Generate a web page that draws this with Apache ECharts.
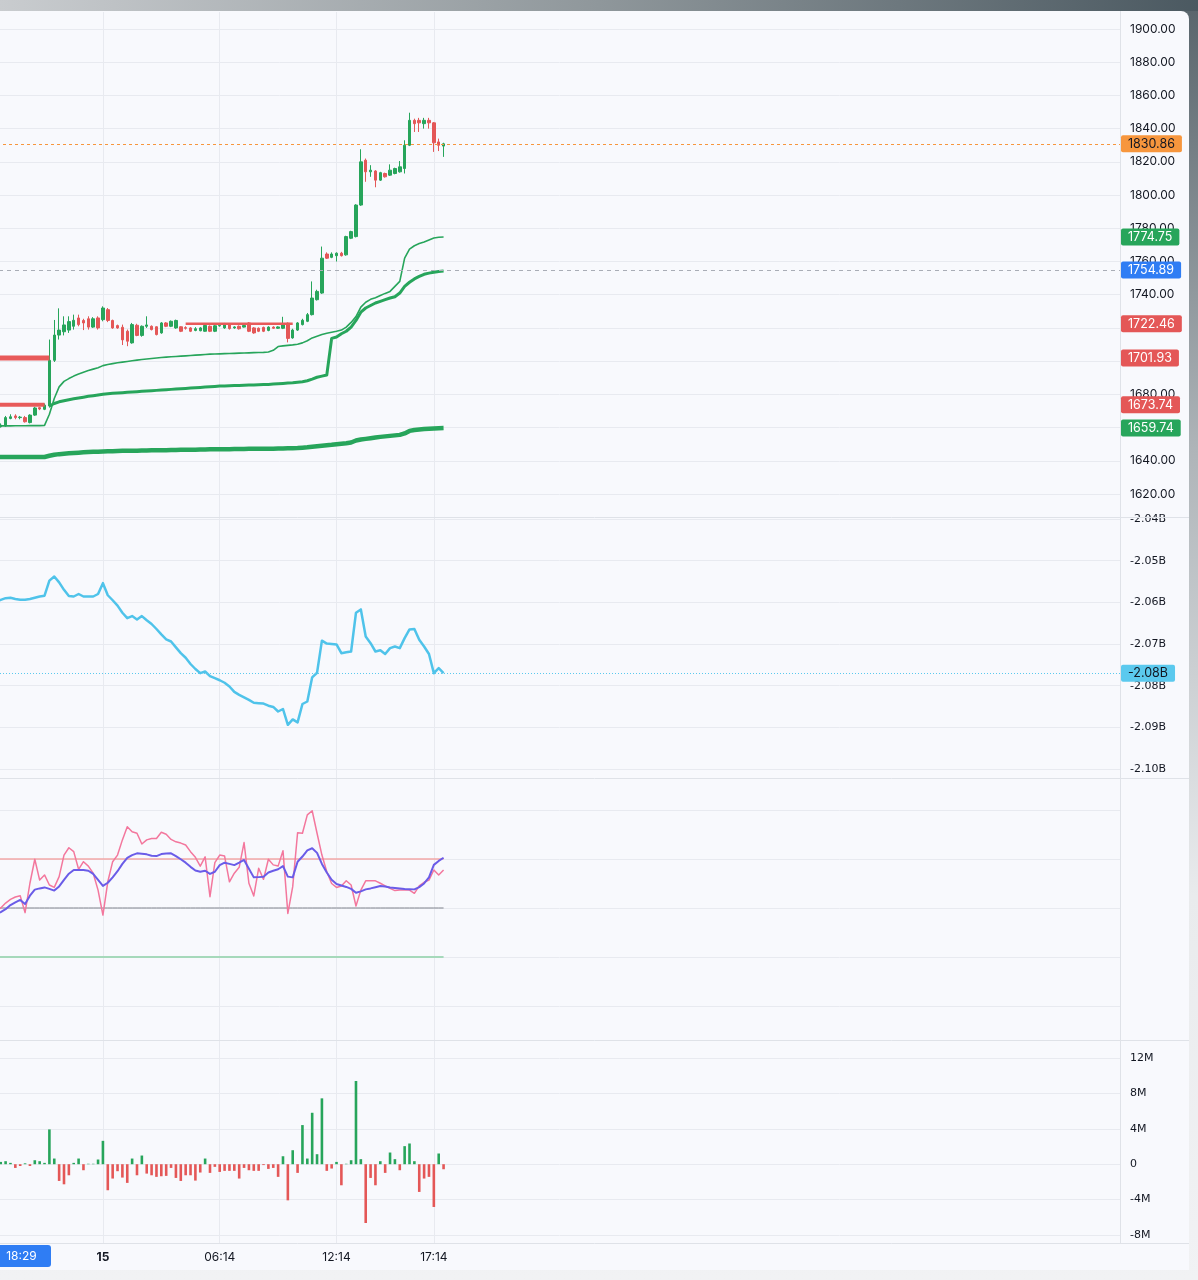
<!DOCTYPE html>
<html>
<head>
<meta charset="utf-8">
<title>chart</title>
<script src="https://cdn.jsdelivr.net/npm/echarts@6.0.0/dist/echarts.min.js"></script>
<style>
  body{margin:0;width:1198px;height:1280px;overflow:hidden;position:relative;
    background:linear-gradient(180deg,#58646b 0%,#aeb4b8 35%,#e9ebed 70%,#f1f2f4 100%);}
  #strip{position:absolute;left:0;top:0;width:1198px;height:11px;background:linear-gradient(90deg,#c9cccf,#8f979b 50%,#4b5961);}
  #panel{position:absolute;left:0;top:11px;width:1189px;height:1259px;background:#f8f9fd;border-top-right-radius:8px;}
  #chart{position:absolute;left:0;top:0;width:1198px;height:1280px;}
</style>
</head>
<body>
<div id="strip"></div>
<div id="panel"></div>
<div id="chart"></div>
<script>
// 15 minute bars, first slot = 14th 18:29
const startDay = 14;
const startMinute = 18 * 60 + 29;
const barMinutes = 15;
const slotCount = 233; // bars + empty room on the right side

const timeTicks = ['15 00:14', '15 06:14', '15 12:14', '15 17:14'];

const opens = [1659,1660,1660.5,1661,1665.5,1667,1666,1666,1663,1667.5,
  1672,1671,1673,1700.5,1715.7,1717.7,1718.7,1721,1726,1724.5,
  1725.5,1720.5,1726,1725,1731,1724.5,1721.4,1720.4,1718,1711,
  1721.6,1715.5,1721,1721,1720.7,1717,1723,1721,1720,1720.7,
  1720.2,1720,1718.5,1718.3,1718,1721,1718,1721.2,1720,1722,
  1720,1721,1720.5,1723,1720,1719.8,1720.3,1718.5,1720.5,1719.8,
  1719.8,1722.8,1714,1718.7,1722,1724,1728,1737,1741,1764.5,
  1762.5,1763.5,1765,1764,1774,1775,1794,1821,1814,1814.5,
  1809,1813,1812,1813,1814,1816,1830,1845,1845,1843,
  1845,1843.5,1832,1829.5];
const closes = [1660,1660.5,1661.5,1666,1666.5,1666,1666.3,1663.5,1667.5,1671.8,
  1671.2,1673.5,1700.5,1715.7,1718.7,1721.8,1723.8,1724.6,1722,1723,
  1720.5,1725.5,1720,1732,1724.5,1720,1720,1712.8,1712,1722,
  1715.5,1721,1721.8,1719,1716,1723,1721,1724,1724.5,1718,
  1719.8,1718,1719.5,1720,1721.5,1718,1721.3,1721.5,1722.5,1719.6,
  1720.6,1719.5,1721.5,1718,1717,1718,1718,1720.5,1719.8,1720.6,
  1722.5,1713.7,1718.7,1723,1724.6,1728,1738,1742,1762,1762,
  1764.5,1765,1763.5,1775,1778,1794,1820,1814,1815,1809,
  1813.5,1811,1815,1816,1817,1830,1845,1843,1843.5,1845,
  1843.5,1831.5,1830,1830.86];
const lows = [1658,1659,1660,1660.5,1665,1665,1665,1663,1662.5,1667,
  1670.5,1670.5,1672,1699.5,1713,1715.5,1717,1719,1721,1718.7,
  1719,1720,1719,1724,1723.5,1719.5,1719.5,1709.7,1709,1710.5,
  1715,1714.7,1720,1718.5,1715.5,1716.5,1720.5,1720.5,1719.5,1717.5,
  1719,1717.5,1718,1718,1717.7,1717.5,1717.5,1720.8,1719.5,1719,
  1719.5,1719,1720.2,1717.5,1716.5,1717.5,1717.5,1718,1719.4,1719.4,
  1719.3,1711.3,1713.5,1718.2,1721.5,1723.5,1727.5,1736.5,1740.5,1761.5,
  1762,1760,1763,1763.5,1773.5,1774.5,1793.5,1808,1811,1804.7,
  1808.5,1810.5,1811.5,1812.5,1813.5,1813,1829.5,1838,1838,1840,
  1840,1826,1826.5,1823];
const highs = [1661,1662,1662.5,1667,1668,1668,1667,1667,1668,1672.5,
  1672.5,1674.5,1713,1724.8,1731.8,1727,1727,1728,1728,1725.5,
  1727,1726.5,1727,1733,1732,1725,1722,1722,1719,1723,
  1722.5,1721.5,1727,1721.5,1721,1723.5,1723.5,1724.5,1725,1721,
  1721,1720.5,1720.5,1720.5,1722,1721.5,1721.8,1722.3,1723,1722.5,
  1721,1721.5,1722.3,1723.5,1720.5,1720.3,1720.8,1721,1721,1721,
  1726.7,1723.3,1719.5,1723.5,1725.5,1729,1748,1743,1769,1765.5,
  1765.5,1765.5,1765.8,1775.5,1778.5,1794.5,1827.6,1822,1818,1815,
  1814,1813.5,1818.5,1816.5,1820.5,1833,1849.6,1846,1846.5,1846.5,
  1846.5,1844,1834,1831.5];

// green bands on the price pane
const bandFast = [1661,1661,1661,1661,1661,1661.1,1661.1,1661.1,1661.2,1661.2,
  1661.2,1661.3,1668,1677.5,1684.5,1687.8,1689.5,1691,1692.2,1693.3,
  1694.3,1695.2,1696,1697.3,1698,1698.5,1699,1699.4,1699.8,1700.2,
  1700.6,1701,1701.3,1701.6,1701.9,1702.2,1702.4,1702.6,1702.8,1703,
  1703.2,1703.4,1703.6,1703.8,1704,1704.2,1704.3,1704.4,1704.5,1704.6,
  1704.7,1704.8,1704.9,1705,1705.1,1705.2,1705.3,1705.5,1706.5,1708.8,
  1709.2,1709.5,1709.8,1710.2,1711,1712.3,1714,1715,1716,1716.8,
  1717.4,1718,1718.7,1720.5,1723.3,1726.8,1732.5,1735.5,1737.2,1738.2,
  1739.5,1740.8,1742,1745,1748,1762,1767.5,1769.5,1770.8,1771.8,
  1773,1774.2,1774.6,1774.75];
const bandMid = [null,null,null,null,null,null,null,null,null,null,
  null,null,1673,1674.5,1675.5,1676.2,1676.8,1677.3,1677.8,1678.3,
  1678.8,1679.2,1679.6,1680,1680.3,1680.6,1680.8,1681,1681.2,1681.4,
  1681.6,1681.8,1682,1682.2,1682.4,1682.6,1682.8,1683,1683.2,1683.4,
  1683.6,1683.8,1684,1684.2,1684.4,1684.6,1684.8,1685,1685.1,1685.2,
  1685.3,1685.4,1685.5,1685.6,1685.7,1685.8,1685.9,1686,1686.2,1686.4,
  1686.6,1686.8,1687,1687.3,1687.6,1688.2,1689.2,1690.3,1691,1691.7,
  1713.7,1714.5,1716.5,1718,1720.5,1724.5,1729.5,1732,1733.5,1735,
  1736,1737,1738,1738.8,1741,1745,1747.5,1749.5,1751,1752.3,
  1753,1753.5,1754,1754.3];
const bandSlow = [1642.3,1642.3,1642.3,1642.3,1642.3,1642.3,1642.3,1642.3,1642.3,1642.3,
  1642.3,1642.3,1643,1643.6,1644,1644.3,1644.5,1644.7,1644.9,1645.1,
  1645.3,1645.4,1645.5,1645.6,1645.7,1645.8,1645.9,1646,1646,1646.1,
  1646.1,1646.2,1646.2,1646.3,1646.3,1646.4,1646.4,1646.5,1646.5,1646.6,
  1646.6,1646.7,1646.7,1646.8,1646.8,1646.9,1646.9,1647,1647,1647,
  1647.1,1647.1,1647.1,1647.2,1647.2,1647.2,1647.3,1647.3,1647.3,1647.4,
  1647.4,1647.5,1647.6,1647.7,1647.9,1648.1,1648.4,1648.7,1649,1649.3,
  1649.6,1650,1650.3,1650.6,1651,1652.2,1652.8,1653.2,1653.6,1654,
  1654.4,1654.7,1655,1655.3,1655.6,1656.5,1658,1658.5,1658.8,1659.1,
  1659.3,1659.5,1659.65,1659.74];

// red horizontal levels: value, first bar, last bar
const levelValues = [1701.93, 1673.74, 1722.46];
const levelFrom = [0, 0, 40];
const levelTo = [12, 11, 62];

const crosshairPrice = 1754.89;

// billions
const obv = [-2.0600,-2.0598,-2.0594,-2.0590,-2.0589,-2.0592,-2.0594,-2.0594,-2.0592,-2.0589,
  -2.0586,-2.0584,-2.0548,-2.0538,-2.0552,-2.0570,-2.0585,-2.0586,-2.0580,-2.0586,
  -2.0586,-2.0586,-2.0580,-2.0554,-2.0583,-2.0595,-2.0608,-2.0625,-2.0638,-2.0633,
  -2.0641,-2.0633,-2.0643,-2.0652,-2.0664,-2.0677,-2.0689,-2.0694,-2.0708,-2.0722,
  -2.0733,-2.0748,-2.0760,-2.0770,-2.0766,-2.0777,-2.0782,-2.0787,-2.0793,-2.0802,
  -2.0815,-2.0822,-2.0828,-2.0834,-2.0841,-2.0842,-2.0843,-2.0848,-2.0851,-2.0862,
  -2.0856,-2.0894,-2.0881,-2.0888,-2.0844,-2.0838,-2.0780,-2.0769,-2.0692,-2.0699,
  -2.0700,-2.0701,-2.0722,-2.0720,-2.0718,-2.0625,-2.0617,-2.0682,-2.0698,-2.0718,
  -2.0715,-2.0724,-2.0710,-2.0706,-2.0710,-2.0686,-2.0665,-2.0664,-2.0690,-2.0706,
  -2.0724,-2.0770,-2.0758,-2.0770];

const rsi = [48,49,50,52,53.5,54.5,55,48.1,60.1,69.9,
  61.4,63.5,59.4,58.4,62.8,71.6,74.6,73,65.8,68.9,
  67.1,64.2,57.3,47.1,60.7,68.9,71.6,77.8,83.2,81.1,
  80.5,76.1,77.8,78.4,78.4,80.9,80.1,78,77,76.5,
  75.7,73,70.7,67.1,70.9,54.6,68.5,71.6,71.2,60.7,
  64.2,66.6,76.7,60.1,54.9,66.2,61.7,69.9,67.6,67.1,
  73.4,47.8,58.7,80.7,80.5,88,89.7,80.5,71.6,64.8,
  60,58.4,59,61.1,59.4,50.8,57.3,61.1,61.1,61.1,
  60.1,59,58,57.1,57.3,57.3,57.3,56,59,60.5,
  61.4,65.5,63.5,65.5];
const rsiSignal = [47,47.5,48.3,49.5,51.2,52.3,53.3,51.6,55,57.5,
  58,58.4,57.8,57.1,58.8,61.5,64,65.5,65.5,65.5,
  65.2,63.9,61.5,59,60.3,62.5,65,68,70.5,71.6,
  72.3,72.1,71.9,71.3,71.2,72,72.2,72.3,71.2,69.9,
  68.5,66.8,65.3,64.8,65.2,63.9,64.8,67.5,68.5,68,
  67.5,68.5,69.6,66,62.5,62.6,62.8,64.5,65.2,65.8,
  67.1,62.8,62.5,68.9,71,73.5,74.4,72.5,68,64.5,
  61.5,59.8,59.2,58.6,57.8,56.2,56.8,57.6,58,58.5,
  59,58.8,58.4,58.2,58,57.8,57.7,57.6,58.5,60,
  62.5,67.6,69.2,70.5];
const rsiBands = [70, 50, 30];

// millions
const volDelta = [0.2,-0.1,0.26,0.34,0.15,-0.42,-0.2,0.1,-0.2,0.45,
  0.34,0.15,3.93,0.64,-1.89,-2.27,-1.25,0.15,0.64,-0.68,
  0.05,0.05,0.53,2.64,-2.94,-1.62,-0.79,-1.51,-2.11,0.64,
  -1.25,0.98,-1.06,-1.25,-1.43,-1.36,-1.32,-0.42,-1.55,-1.89,
  -1.25,-1.25,-1.85,-0.94,0.64,-0.98,-0.3,-0.87,-0.75,-0.75,
  -0.75,-1.62,-0.42,-0.68,-0.75,-0.75,-0.1,-0.53,-0.42,-1.43,
  0.9,-4.08,1.58,-0.98,4.42,0.64,5.81,1.13,7.44,-0.75,
  -0.49,0.26,-2.38,0.05,0.45,9.4,0.57,-6.64,-1.55,-2.38,
  0.34,-0.98,1.32,0.57,-0.68,2.04,2.34,0.34,-3.13,-1.62,
  -1.43,-4.83,1.21,-0.57];

const priceTicks = [1900,1880,1860,1840,1820,1800,1780,1760,1740,1720,1700,1680,1660,1640,1620];
const priceLabels = [1900,1880,1860,1840,1820,1800,1780,1760,1740,1680,1640,1620];
const obvTicks = [-2.04,-2.05,-2.06,-2.07,-2.08,-2.09,-2.10];
const rsiGridValues = [90,70,50,30,10];
const deltaTicks = [12,8,4,0,-4,-8];

const GREEN = '#27a55b';
const RED = '#e45757';
const GRID = '#e8eaf0';
const SEP = '#dfe2e8';
const TEXT = '#131722';

let categories = [];
for (let i = 0; i < slotCount; i++) {
  let m = startMinute + i * barMinutes;
  let day = startDay + Math.floor(m / 1440);
  let mm = m % 1440;
  categories.push(day + ' ' + String(Math.floor(mm / 60)).padStart(2, '0') + ':' + String(mm % 60).padStart(2, '0'));
}
const tickSet = new Set(timeTicks);
const onTick = (i, v) => tickSet.has(v);

let candles = opens.map((o, i) => [o, closes[i], lows[i], highs[i]]);

function levelData(k) {
  return opens.map((o, i) => (i >= levelFrom[k] && i <= levelTo[k]) ? levelValues[k] : null);
}

function tag(value, bg, fg, fmt, line) {
  return {
    yAxis: value,
    lineStyle: line || {color: 'rgba(0,0,0,0)', width: 0},
    label: {
      show: true, position: 'end', distance: 1, formatter: fmt,
      backgroundColor: bg, color: fg, padding: [2, 7, 2, 7], borderRadius: 2,
      fontFamily: 'Inter', fontSize: 12.5, lineHeight: 13
    }
  };
}
const priceFmt = p => Number(p.value).toFixed(2);

function marks(list) {
  return {silent: true, symbol: ['none', 'none'], animation: false, precision: 4, data: list};
}

function line(name, data, x, color, width, extra) {
  return Object.assign({
    name: name, type: 'line', data: data, xAxisIndex: x, yAxisIndex: x,
    symbol: 'none', showSymbol: false, connectNulls: false, silent: true,
    lineStyle: {color: color, width: width, join: 'round'}
  }, extra || {});
}

let grids = [
  {top: 12, height: 505},
  {top: 517, height: 261},
  {top: 778, height: 262},
  {top: 1040, height: 203}
].map(g => Object.assign({left: -9, right: 78, outerBoundsMode: 'none'}, g));

let xAxes = grids.map((g, k) => ({
  type: 'category', gridIndex: k, data: categories, boundaryGap: false,
  axisLine: {show: false}, axisTick: {show: false},
  axisLabel: {
    show: k === 3, interval: onTick, margin: 8, color: TEXT, fontFamily: 'Inter', fontSize: 12,
    formatter: (v, i) => {
      let parts = v.split(' ');
      let prev = categories[i - 1];
      if (prev && prev.split(' ')[0] !== parts[0]) return '{day|' + parts[0] + '}';
      return parts[1];
    },
    rich: {day: {fontWeight: 700, fontFamily: 'Inter', fontSize: 12, color: TEXT}}
  },
  splitLine: {show: true, interval: onTick, lineStyle: {color: GRID, width: 1}}
}));

function valueAxis(k, min, max, ticks, labels, fmt, font, size) {
  return {
    type: 'value', gridIndex: k, position: 'right', min: min, max: max,
    axisLine: {show: false},
    axisTick: {show: false, customValues: ticks},
    splitLine: {show: true, lineStyle: {color: GRID, width: 1}},
    axisLabel: labels ? {
      customValues: labels, formatter: fmt, margin: 10,
      color: TEXT, fontFamily: font, fontSize: size
    } : {show: false}
  };
}

let yAxes = [
  valueAxis(0, 1606.15, 1910.24, priceTicks, priceLabels, v => v.toFixed(2), 'Inter', 12),
  valueAxis(1, -2.10216, -2.03952, obvTicks, obvTicks, v => v.toFixed(2) + 'B', 'DejaVu Sans', 11),
  valueAxis(2, -3.88, 103.06, rsiGridValues, null),
  valueAxis(3, -8.9, 14.03, deltaTicks, deltaTicks, v => v === 0 ? '0' : v + 'M', 'DejaVu Sans', 11)
];

let series = [
  {
    name: 'price', type: 'candlestick', data: candles, xAxisIndex: 0, yAxisIndex: 0,
    barWidth: 3, silent: true,
    itemStyle: {color: GREEN, color0: RED, borderColor: GREEN, borderColor0: RED, borderWidth: 1},
    markLine: marks([
      tag(closes[closes.length - 1], '#f7963d', TEXT, priceFmt, {color: '#f7963d', type: [3, 3], width: 1}),
      tag(crosshairPrice, '#2f7df4', '#ffffff', priceFmt, {color: '#a9adb6', type: [4, 4], width: 1})
    ])
  }
];

const levelWidths = [5, 4, 2.5];
levelValues.forEach((v, k) => {
  series.push(line('level' + k, levelData(k), 0, '#e85a5a', levelWidths[k], {
    markLine: marks([tag(v, RED, '#ffffff', priceFmt)])
  }));
});

series.push(line('bandSlow', bandSlow, 0, GREEN, 4.5, {
  markLine: marks([tag(bandSlow[bandSlow.length - 1], GREEN, '#ffffff', priceFmt)])
}));
series.push(line('bandMid', bandMid, 0, GREEN, 3));
series.push(line('bandFast', bandFast, 0, GREEN, 1.6, {
  markLine: marks([tag(bandFast[bandFast.length - 1], GREEN, '#ffffff', priceFmt)])
}));

series.push(line('obv', obv, 1, '#4fc3ea', 2.5, {
  markLine: marks([tag(obv[obv.length - 1], '#5bc9ee', TEXT, p => Number(p.value).toFixed(2) + 'B',
    {color: '#5bc9ee', type: [1, 2], width: 1})])
}));

const bandColors = ['#f3a7a7', '#80848e', '#a6d9bb'];
const bandWidths = [1.5, 1, 2];
rsiBands.forEach((b, k) => {
  series.push(line('band' + b, opens.map(() => b), 2, bandColors[k], bandWidths[k]));
});
series.push(line('rsi', rsi, 2, '#f3779d', 1.5));
series.push(line('rsiSignal', rsiSignal, 2, '#6a5ce8', 2));

series.push({
  name: 'delta', type: 'bar', data: volDelta, xAxisIndex: 3, yAxisIndex: 3,
  barWidth: 2.6, silent: true,
  itemStyle: {color: p => p.value >= 0 ? GREEN : RED}
});

let sepLines = [517.5, 778.5, 1040.5, 1243.5].map(y => ({
  type: 'line', silent: true, z: 5,
  shape: {x1: 0, y1: y, x2: 1189, y2: y},
  style: {stroke: SEP, lineWidth: 1}
}));
sepLines.push({
  type: 'line', silent: true, z: 5,
  shape: {x1: 1120.5, y1: 11, x2: 1120.5, y2: 1243},
  style: {stroke: SEP, lineWidth: 1}
});

let chart = echarts.init(document.getElementById('chart'), null, {renderer: 'canvas'});
chart.setOption({
  animation: false,
  backgroundColor: 'transparent',
  grid: grids,
  xAxis: xAxes,
  yAxis: yAxes,
  series: series,
  graphic: sepLines.concat([
    {type: 'rect', silent: true, z: 20, shape: {x: -8, y: 1245, width: 59, height: 22, r: 3}, style: {fill: '#2f7df4'}},
    {type: 'text', silent: true, z: 21, x: 21.5, y: 1256,
      style: {text: categories[0].split(' ')[1], fill: '#ffffff', font: '12px Inter', align: 'center', verticalAlign: 'middle'}}
  ])
});
</script>
</body>
</html>
